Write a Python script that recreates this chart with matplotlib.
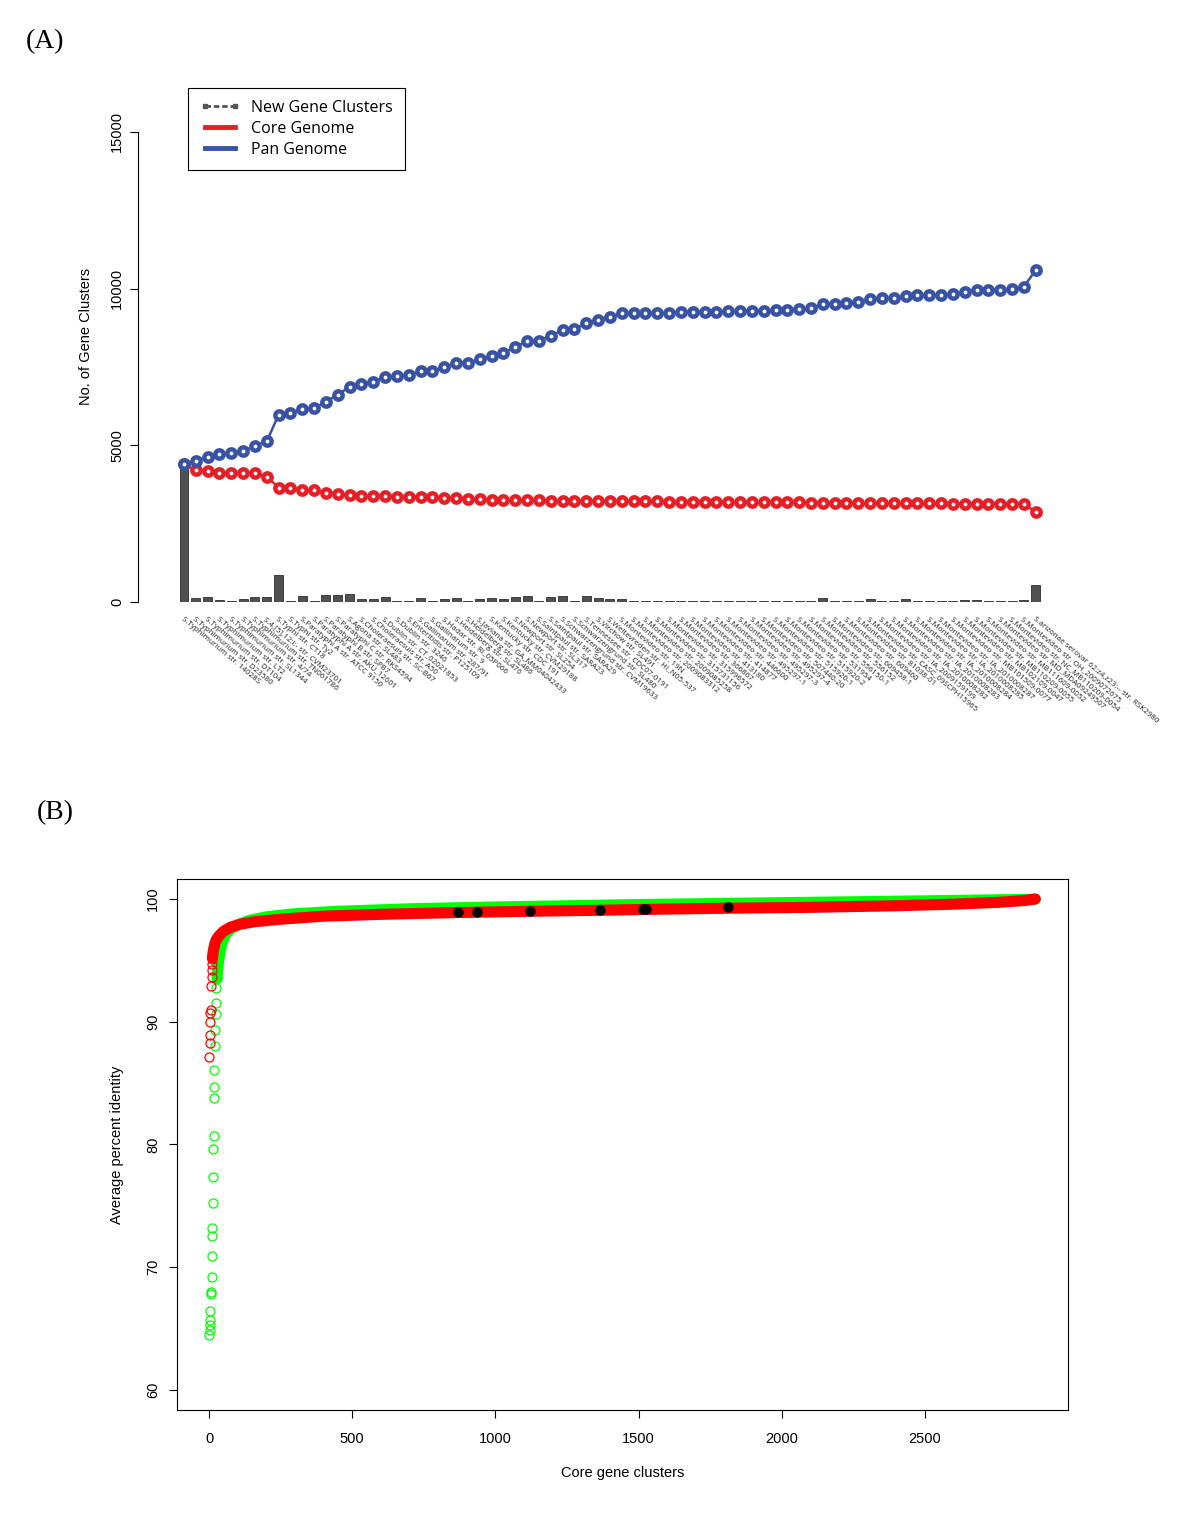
import matplotlib
matplotlib.use("Agg")
import matplotlib.pyplot as plt
from matplotlib.lines import Line2D
import numpy as np

# ---------------- Panel A data ----------------
strains = [
    "S.Typhimurium str. 14028S", "S.Typhimurium str. D23580", "S.Typhimurium str. DT104",
    "S.Typhimurium str. LT2", "S.Typhimurium str. SL1344", "S.Typhimurium str. 4/74",
    "S.Typhimurium str. TN061786", "S.4,[5],12:i:- str. CVM23701", "S.Typhi str. CT18",
    "S.Typhi str. Ty2", "S.Paratyphi A str. ATCC 9150", "S.Paratyphi A str. AKU_12601",
    "S.Paratyphi B str. SPB7", "S.Paratyphi C str. RKS4594", "S.Agona str. SL483",
    "S.Choleraesuis str. SC-B67", "S.Choleraesuis str. A50", "S.Dublin str. CT_02021853",
    "S.Dublin str. 3246", "S.Enteritidis str. P125109", "S.Gallinarum str. 287/91",
    "S.Gallinarum str. 9", "S.Hadar str. RI_05P066", "S.Heidelberg str. SL476",
    "S.Heidelberg str. SL486", "S.Javiana str. GA_MM04042433", "S.Kentucky str. CDC 191",
    "S.Kentucky str. CVM29188", "S.Newport str. SL254", "S.Newport str. SL317",
    "S.Saintpaul str. SARA23", "S.Saintpaul str. SARA29", "S.Schwarzengrund str. CVM19633",
    "S.Schwarzengrund str. SL480", "S.Tennessee str. CDC07-0191", "S.Virchow str. SL491",
    "S.Weltevreden str. HI_N05-537", "S.Montevideo str. 19N", "S.Montevideo str. 2009083312",
    "S.Montevideo str. 2009085258", "S.Montevideo str. 315731156", "S.Montevideo str. 315996572",
    "S.Montevideo str. 366867", "S.Montevideo str. 413180", "S.Montevideo str. 414877",
    "S.Montevideo str. 446600", "S.Montevideo str. 495297-1", "S.Montevideo str. 495297-3",
    "S.Montevideo str. 495297-4", "S.Montevideo str. 507440-20", "S.Montevideo str. 515920-1",
    "S.Montevideo str. 515920-2", "S.Montevideo str. 531954", "S.Montevideo str. 556150-1",
    "S.Montevideo str. 556152", "S.Montevideo str. 609458-1", "S.Montevideo str. 609460",
    "S.Montevideo str. 81038-01", "S.Montevideo str. CASC_09SCPH15965",
    "S.Montevideo str. IA_2009159199", "S.Montevideo str. IA_2010008282",
    "S.Montevideo str. IA_2010008283", "S.Montevideo str. IA_2010008284",
    "S.Montevideo str. IA_2010008285", "S.Montevideo str. IA_2010008287",
    "S.Montevideo str. MB101509-0077", "S.Montevideo str. MB102109-0047",
    "S.Montevideo str. MB110209-0055", "S.Montevideo str. MB111609-0052",
    "S.Montevideo str. MD_MDA09249507", "S.Montevideo str. NC_MB110209-0054",
    "S.Montevideo str. OH_2009072675", "S.arizonae serovar 62:z4,z23:-- str. RSK2980",
]

new_clusters = [
    4395, 117, 150, 64, 30, 85, 150, 150, 862, 43,
    181, 30, 234, 234, 266, 106, 85, 160, 30, 30,
    128, 30, 106, 117, 30, 105, 116, 96, 170, 203,
    30, 160, 181, 40, 181, 117, 94, 90, 30, 30,
    30, 35, 30, 30, 35, 30, 30, 30, 30, 30,
    30, 30, 45, 30, 138, 30, 40, 30, 108, 40,
    30, 80, 35, 30, 30, 35, 64, 73, 30, 30,
    40, 60, 533,
]

pan_genome = [
    4395, 4500, 4637, 4723, 4765, 4829, 4979, 5129, 5978, 6022,
    6169, 6180, 6393, 6616, 6871, 6948, 7021, 7191, 7223, 7245,
    7372, 7383, 7490, 7618, 7640, 7745, 7861, 7957, 8127, 8330,
    8340, 8500, 8681, 8713, 8894, 9011, 9105, 9213, 9215, 9218,
    9220, 9234, 9245, 9256, 9266, 9270, 9277, 9280, 9290, 9300,
    9305, 9310, 9341, 9373, 9511, 9515, 9553, 9560, 9661, 9692,
    9697, 9776, 9798, 9800, 9805, 9820, 9884, 9957, 9960, 9963,
    9990, 10063, 10596,
]

core_genome = [
    4395, 4213, 4171, 4128, 4128, 4128, 4120, 4000, 3650, 3638,
    3574, 3560, 3489, 3436, 3415, 3393, 3390, 3383, 3361, 3361,
    3355, 3340, 3335, 3308, 3290, 3276, 3260, 3255, 3250, 3245,
    3240, 3235, 3230, 3228, 3225, 3222, 3220, 3215, 3212, 3210,
    3208, 3205, 3203, 3200, 3198, 3196, 3194, 3192, 3190, 3188,
    3185, 3180, 3176, 3172, 3168, 3165, 3162, 3160, 3158, 3155,
    3152, 3150, 3148, 3146, 3144, 3142, 3140, 3138, 3136, 3134,
    3132, 3128, 2872,
]

yticks_a = [0, 5000, 10000, 15000]

# ---------------- Panel B data ----------------
green_low_x = [1, 2, 3, 4, 5, 7, 8, 9, 10, 11, 12, 13, 14, 15, 16, 17, 18, 19, 20, 22, 24, 25, 26, 28]
green_low_y = [64.48, 64.89, 65.30, 65.70, 66.44, 67.82, 68.01, 69.23, 70.92, 72.55, 73.17, 75.26,
               77.33, 79.61, 80.69, 83.79, 84.66, 86.07, 88.05, 89.33, 90.63, 91.50, 92.72, 93.54]
green_curve_x = [28, 31, 35, 40, 48, 58, 75, 100, 140, 200, 300, 450, 700, 1000, 1500, 2000, 2500, 2885]
green_curve_y = [93.5, 94.4, 95.2, 95.9, 96.6, 97.1, 97.55, 97.9, 98.25, 98.55, 98.8, 99.0, 99.2,
                 99.35, 99.55, 99.7, 99.85, 99.98]

red_low_x = [1, 2, 3, 4, 5, 6, 8, 9, 10, 11, 12]
red_low_y = [87.10, 88.29, 88.92, 90.0, 90.74, 90.96, 92.91, 93.67, 94.22, 94.7, 95.1]
red_curve_x = [12, 14, 17, 21, 26, 35, 50, 75, 110, 160, 250, 400, 600, 870, 1120, 1360, 1520,
               1810, 2100, 2400, 2600, 2750, 2850, 2885]
red_curve_y = [95.2, 95.6, 96.0, 96.4, 96.7, 97.0, 97.35, 97.7, 97.95, 98.15, 98.35, 98.6, 98.75,
               98.9, 99.0, 99.08, 99.15, 99.25, 99.32, 99.45, 99.58, 99.72, 99.88, 100.0]

black_x = [869, 936, 1121, 1365, 1515, 1526, 1812]
black_y = [98.94, 98.94, 99.02, 99.10, 99.19, 99.19, 99.35]

xticks_b = [0, 500, 1000, 1500, 2000, 2500]
yticks_b = [60, 70, 80, 90, 100]

# ---------------- Figure ----------------
W, H = 1200, 1521
fig = plt.figure(figsize=(W / 100, H / 100), dpi=100)
plt.rcParams['font.family'] = ['Liberation Sans', 'DejaVu Sans']

def fx(px):
    return px / W

def fy(py):
    return 1 - py / H

# Panel A axes: left px 138..1060, y px 70..602
axA = fig.add_axes([fx(138), fy(602), fx(1060 - 138), (602 - 70) / H])
xs = np.arange(len(strains))
spacing = 11.83
axA.set_xlim((138 - 184) / spacing, (1060 - 184) / spacing)
per_px = 15000 / 470.0
axA.set_ylim(0, (602 - 70) * per_px)

BLUE = '#3953a4'
RED = '#e41f26'

axA.bar(xs, new_clusters, width=0.76, color='#505052', edgecolor='#2e2e2e', linewidth=0.6, zorder=2)
axA.plot(xs, core_genome, color=RED, lw=1.8, zorder=3,
         marker='o', ms=6.0, mfc='white', mec=RED, mew=3.2)
axA.plot(xs, pan_genome, color=BLUE, lw=1.8, zorder=4,
         marker='o', ms=6.0, mfc='white', mec=BLUE, mew=3.2)

for s in ['top', 'right', 'bottom']:
    axA.spines[s].set_visible(False)
axA.spines['left'].set_bounds(0, 15000)
axA.spines['left'].set_linewidth(0.8)
axA.set_yticks(yticks_a)
axA.set_yticklabels([str(v) for v in yticks_a], rotation=90, va='center', fontsize=10.5)
axA.tick_params(axis='y', length=6, width=0.8, pad=4)
axA.set_ylabel("No. of Gene Clusters", fontsize=10.5, labelpad=12)

axA.set_xticks(xs)
axA.set_xticklabels(strains, rotation=-40, ha='left', va='top', rotation_mode='anchor',
                    fontsize=5.8, color='#222222', family=['Open Sans', 'DejaVu Sans'])
axA.tick_params(axis='x', length=0, pad=10)

handles = [
    Line2D([0], [0], color='#555555', lw=2, ls=(0, (2, 1)), marker='s', ms=3.5),
    Line2D([0], [0], color=RED, lw=3.5),
    Line2D([0], [0], color=BLUE, lw=3.5),
]
leg = fig.legend(handles, ["New Gene Clusters", "Core Genome", "Pan Genome"],
                 loc='upper left', bbox_to_anchor=(fx(188), fy(88)), borderaxespad=0,
                 prop={'family': ['Open Sans', 'DejaVu Sans'], 'size': 11.5},
                 frameon=True, fancybox=False, edgecolor='black', framealpha=1,
                 handlelength=2.5, handletextpad=0.7, borderpad=0.75, labelspacing=0.3,
                 numpoints=2)
leg.get_frame().set_linewidth(0.8)

fig.text(fx(45), fy(42), "(A)", fontsize=20, ha='center', va='center', family='Liberation Serif')
fig.text(fx(55), fy(813), "(B)", fontsize=20, ha='center', va='center', family='Liberation Serif')

# Panel B axes: px x 177..1068, y 879..1410
axB = fig.add_axes([fx(177), fy(1410), fx(1068 - 177), (1410 - 879) / H])
xpp = 500 / 143.2
axB.set_xlim((177 - 209) * xpp, (1068 - 209) * xpp)
ypp = 10 / 122.75
axB.set_ylim(100 - (1410 - 899) * ypp, 100 + (899 - 879) * ypp)

GREEN = '#00ff00'
RED_B = '#ff0000'
axB.plot(green_curve_x, green_curve_y, color=GREEN, lw=8, solid_capstyle='round', zorder=2)
axB.plot(green_low_x, green_low_y, ls='none', marker='o', ms=6.5, mfc='none', mec=GREEN, mew=0.9, zorder=2)
axB.plot(red_curve_x, red_curve_y, color=RED_B, lw=8, solid_capstyle='round', zorder=3)
axB.plot(red_low_x, red_low_y, ls='none', marker='o', ms=6.5, mfc='none', mec=RED_B, mew=0.9, zorder=3)
axB.plot(black_x, black_y, ls='none', marker='o', ms=6.5, color='black', zorder=4)

axB.set_xticks(xticks_b)
axB.set_xticklabels([str(v) for v in xticks_b], fontsize=10.5)
axB.set_yticks(yticks_b)
axB.set_yticklabels([str(v) for v in yticks_b], rotation=90, va='center', fontsize=10.5)
axB.tick_params(axis='x', length=6, width=0.8, pad=10)
axB.tick_params(axis='y', length=6, width=0.8, pad=6)
for s in axB.spines.values():
    s.set_linewidth(0.8)
axB.set_xlabel("Core gene clusters", fontsize=10.5, labelpad=14)
axB.set_ylabel("Average percent identity", fontsize=10.5, labelpad=16)

fig.savefig("out.png", dpi=100, facecolor='white')
